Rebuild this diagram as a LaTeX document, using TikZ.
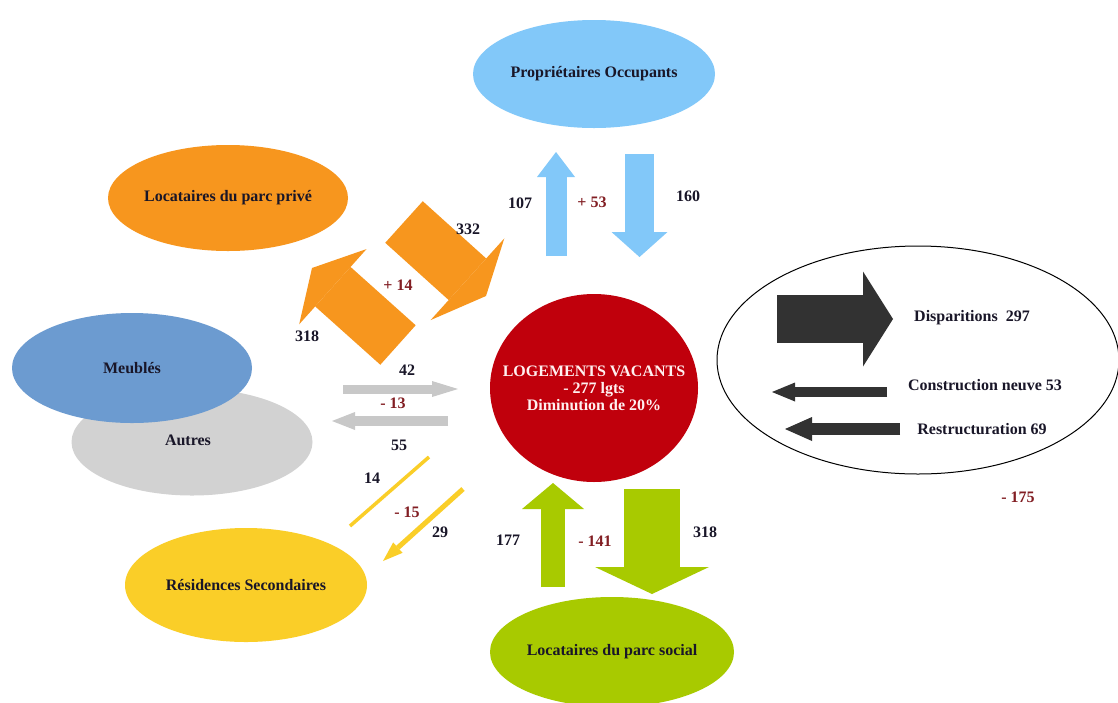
\documentclass[tikz,border=0pt]{standalone}
\usepackage{fontspec}
\setmainfont{Liberation Serif}
\usetikzlibrary{shapes,arrows.meta}

\definecolor{bleuPO}{RGB}{130,200,249}
\definecolor{orangeLP}{RGB}{247,150,30}
\definecolor{bleuMeu}{RGB}{108,155,208}
\definecolor{grisAut}{RGB}{210,210,210}
\definecolor{grisFl}{RGB}{200,200,200}
\definecolor{jauneRS}{RGB}{250,206,40}
\definecolor{vertLS}{RGB}{168,202,0}
\definecolor{rougeLV}{RGB}{192,0,12}
\definecolor{noirFl}{RGB}{50,50,50}
\definecolor{rougeTx}{RGB}{130,30,35}
\definecolor{texteF}{RGB}{25,22,40}

\begin{document}
\begin{tikzpicture}[x=1pt,y=-1pt,font=\fontsize{16}{19}\bfseries\selectfont,text=texteF,
  bloc/.style n args={4}{draw=#4,line width=#1pt,-{Triangle[length=#2pt,width=#3pt,line width=0pt]}}]
\tikzstyle{pool}=[ellipse,inner sep=0pt]
\tikzstyle{nb}=[inner sep=0pt]
\tikzstyle{delta}=[inner sep=0pt,text=rougeTx]
\useasboundingbox[fill=white] (0,0) rectangle (1118,702);

% les reservoirs
\node[pool,fill=bleuPO,minimum width=242,minimum height=108] (PO) at (594,74) {Propriétaires Occupants};
\node[pool,fill=orangeLP,minimum width=240,minimum height=106] (LPP) at (228,198) {Locataires du parc privé};
\node[pool,fill=grisAut,minimum width=241,minimum height=107] (AUT) at (192,442) {};
\node[nb] at (188,440) {Autres};
\node[pool,fill=bleuMeu,minimum width=240,minimum height=110] (MEU) at (132,368) {Meublés};
\node[pool,fill=jauneRS,minimum width=242,minimum height=114] (RS) at (246,585) {Résidences Secondaires};
\node[pool,fill=vertLS,minimum width=244,minimum height=110] (LPS) at (612,652) {Locataires du parc social};
\node[pool,fill=rougeLV,minimum width=208,minimum height=188] (LV) at (594,388) {};
\node[nb,text=white!94!red,align=center,font=\fontsize{16}{17}\bfseries\selectfont] at (594,388)
      {LOGEMENTS VACANTS\\- 277 lgts\\Diminution de 20\%};
\node[pool,draw=black,line width=1,fill=white,minimum width=402,minimum height=228] (PARC) at (918,360) {};

% extremites des flux
\coordinate (po1) at (556,256); \coordinate (po1t) at (556,152);
\coordinate (po2) at (639.5,154); \coordinate (po2t) at (639.5,257);
\coordinate (lp1) at (404,222); \coordinate (lp1t) at (486,296);
\coordinate (lp2) at (398,345); \coordinate (lp2t) at (312,268);
\coordinate (au1) at (343,389); \coordinate (au1t) at (458,389);
\coordinate (au2) at (448,421); \coordinate (au2t) at (332,421);
\coordinate (rs1) at (350,526); \coordinate (rs1t) at (429,457);
\coordinate (rs2) at (463,489); \coordinate (rs2t) at (383,561);
\coordinate (ls1) at (553,587); \coordinate (ls1t) at (553,483);
\coordinate (ls2) at (652,489); \coordinate (ls2t) at (652,594);
\coordinate (di1) at (777,319); \coordinate (di1t) at (893,319);
\coordinate (cn1) at (887,392); \coordinate (cn1t) at (772,392);
\coordinate (re1) at (900,429); \coordinate (re1t) at (785,429);

% les flux
\draw[bloc={21}{25}{38}{bleuPO}] (po1)--(po1t);
\draw[bloc={29}{25}{56}{bleuPO}] (po2)--(po2t);
\draw[bloc={56}{25}{110}{orangeLP}] (lp1)--(lp1t);
\draw[bloc={53}{28}{101}{orangeLP}] (lp2)--(lp2t);
\draw[bloc={9}{26}{16}{grisFl}] (au1)--(au1t);
\draw[bloc={10}{23}{18}{grisFl}] (au2)--(au2t);
\draw[draw=jauneRS,line width=3.5] (rs1)--(rs1t);
\draw[bloc={5}{20}{14}{jauneRS}] (rs2)--(rs2t);
\draw[bloc={24}{26}{62}{vertLS}] (ls1)--(ls1t);
\draw[bloc={56}{27}{114}{vertLS}] (ls2)--(ls2t);
\draw[bloc={48}{30}{95}{noirFl}] (di1)--(di1t);
\draw[bloc={10}{23}{19}{noirFl}] (cn1)--(cn1t);
\draw[bloc={12}{27}{24}{noirFl}] (re1)--(re1t);

% les chiffres
\node[nb] (n107) at (520,203) {107};
\node[nb] (n160) at (688,196) {160};
\node[nb] (n332) at (468,229) {332};
\node[nb] (n318a) at (307,336) {318};
\node[nb] (n42) at (407,370) {42};
\node[nb] (n55) at (399,445) {55};
\node[nb] (n14) at (372,478) {14};
\node[nb] (n29) at (440,532) {29};
\node[nb] (n177) at (508,540) {177};
\node[nb] (n318b) at (705,532) {318};
\node[delta] (d53) at (592,202) {+ 53};
\node[delta] (d14) at (398,285) {+ 14};
\node[delta] (d13) at (393,403) {- 13};
\node[delta] (d15) at (407,512) {- 15};
\node[delta] (d141) at (595,541) {- 141};
\node[delta] (d175) at (1018,497) {- 175};
\node[nb] (disp) at (972,318) {Disparitions~~297};
\node[nb] (cons) at (985,385) {Construction neuve 53};
\node[nb] (rest) at (982,429) {Restructuration 69};
\end{tikzpicture}
\end{document}
